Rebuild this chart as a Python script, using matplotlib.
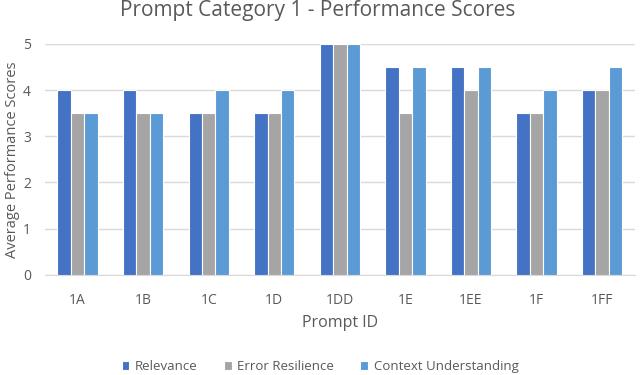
import matplotlib
matplotlib.use("Agg")
import matplotlib.pyplot as plt
import numpy as np

# Data
prompt_ids = ["1A", "1B", "1C", "1D", "1DD", "1E", "1EE", "1F", "1FF"]
relevance = [4, 4, 3.5, 3.5, 5, 4.5, 4.5, 3.5, 4]
error_resilience = [3.5, 3.5, 3.5, 3.5, 5, 3.5, 4, 3.5, 4]
context_understanding = [3.5, 3.5, 4, 4, 5, 4.5, 4.5, 4, 4.5]

series = [
    ("Relevance", relevance, "#4472C4"),
    ("Error Resilience", error_resilience, "#A5A5A5"),
    ("Context Understanding", context_understanding, "#5B9BD5"),
]

plt.rcParams["font.family"] = ["Open Sans", "DejaVu Sans"]
text_col = "#595959"

fig = plt.figure(figsize=(6.4, 3.75), dpi=100)
ax = fig.add_axes([0.07, 0.267, 0.922, 0.616])

x = np.arange(len(prompt_ids))
w = 0.205
for i, (name, vals, col) in enumerate(series):
    ax.bar(x + (i - 1) * w, vals, width=w, color=col, edgecolor="white",
           linewidth=0.8, label=name, zorder=3)

ax.set_xlim(-0.5, len(prompt_ids) - 0.5)
ax.set_ylim(0, 5)
ax.set_yticks(range(6))
ax.set_xticks(x)
ax.set_xticklabels(prompt_ids)
ax.grid(axis="y", color="#D9D9D9", linewidth=1, zorder=0)
for s in ["top", "right", "left"]:
    ax.spines[s].set_visible(False)
ax.spines["bottom"].set_color("#D9D9D9")
ax.tick_params(axis="x", length=0, labelsize=10, colors=text_col, pad=13)
ax.tick_params(axis="y", length=0, labelsize=10, colors=text_col, pad=10)

# title is centred on the whole figure, not the axes
fig.text(0.497, 0.971, "Prompt Category 1 - Performance Scores", fontsize=15,
         color=text_col, ha="center", va="center")
ax.set_xlabel("Prompt ID", fontsize=11.5, color=text_col, labelpad=5)
ax.set_ylabel("Average Performance Scores", fontsize=10.5, color=text_col,
              labelpad=2)

leg = fig.legend(loc="center", bbox_to_anchor=(0.5, 0.022), ncol=3,
                 frameon=False, fontsize=9.5, handlelength=0.6, handleheight=0.6,
                 columnspacing=2.0, handletextpad=0.4, borderpad=0)
for t in leg.get_texts():
    t.set_color(text_col)

fig.savefig("out.png", dpi=100)
